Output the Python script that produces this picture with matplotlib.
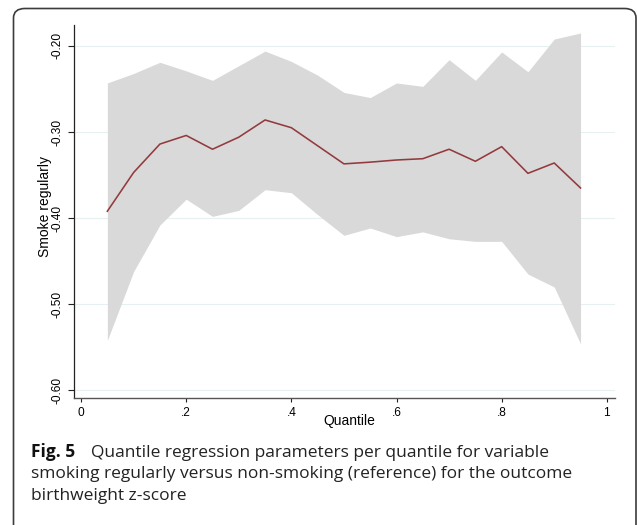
import matplotlib
matplotlib.use("Agg")
import matplotlib.pyplot as plt
from matplotlib.patches import FancyBboxPatch
import numpy as np

quantiles = [0.05, 0.10, 0.15, 0.20, 0.25, 0.30, 0.35, 0.40, 0.45, 0.50,
             0.55, 0.60, 0.65, 0.70, 0.75, 0.80, 0.85, 0.90, 0.95]
coef = [-0.392, -0.347, -0.314, -0.304, -0.320, -0.306, -0.286, -0.295, -0.316, -0.337,
        -0.335, -0.3325, -0.331, -0.320, -0.334, -0.317, -0.348, -0.336, -0.365]
upper = [-0.243, -0.232, -0.219, -0.229, -0.240, -0.223, -0.206, -0.218, -0.234, -0.254,
         -0.260, -0.243, -0.247, -0.216, -0.240, -0.207, -0.230, -0.192, -0.185]
lower = [-0.542, -0.462, -0.408, -0.378, -0.398, -0.391, -0.367, -0.3705, -0.396, -0.420,
         -0.4115, -0.4215, -0.416, -0.424, -0.427, -0.427, -0.465, -0.480, -0.546]
xticks = [0, 0.2, 0.4, 0.6, 0.8, 1.0]
xticklabels = ["0", ".2", ".4", ".6", ".8", "1"]
yticks = [-0.6, -0.5, -0.4, -0.3, -0.2]
yticklabels = ["-0.60", "-0.50", "-0.40", "-0.30", "-0.20"]

W, H = 637, 525
fig = plt.figure(figsize=(W / 100, H / 100), dpi=100)

def fx(px):
    return px / W

def fy(py):
    return 1 - py / H

# Rounded border box
box = FancyBboxPatch((fx(13.5), fy(535)), fx(636) - fx(13.5), fy(8.5) - fy(535),
                     boxstyle="round,pad=0,rounding_size=0.018",
                     transform=fig.transFigure, fill=False,
                     edgecolor="#3c3c3c", linewidth=1.2, clip_on=False)
fig.patches.append(box)

ax = fig.add_axes([fx(73.7), fy(397.7), fx(614.7) - fx(73.7), fy(25) - fy(397.7)])
ax.set_xlim(-0.014, 1.015)
ax.set_ylim(-0.6086, -0.1757)

ax.fill_between(quantiles, lower, upper, color="#d9d9d9", linewidth=0, zorder=2)
ax.plot(quantiles, coef, color="#933a3e", linewidth=1.15, zorder=3)

ax.set_yticks(yticks)
ax.set_yticklabels(yticklabels, rotation=90, va="center",
                   family="Liberation Sans", fontsize=8.6)
ax.set_xticks(xticks)
ax.set_xticklabels(xticklabels, family="Liberation Sans", fontsize=8.6)
ax.grid(axis="y", color="#e6f0f1", linewidth=0.8, zorder=1)
ax.set_axisbelow(True)
ax.tick_params(axis="y", length=4, width=0.8, pad=3.0, color="#222222")
ax.tick_params(axis="x", length=3, width=0.8, pad=4.0, color="#222222")

for s in ["top", "right"]:
    ax.spines[s].set_visible(False)
ax.spines["left"].set_color("#222222")
ax.spines["left"].set_linewidth(0.9)
ax.spines["bottom"].set_color("#555555")
ax.spines["bottom"].set_linewidth(1.0)

ax.set_ylabel("Smoke regularly", family="Liberation Sans", fontsize=10)
ax.set_xlabel("Quantile", family="Liberation Sans", fontsize=10)
ax.yaxis.set_label_coords((45 - 73.7) / (614.7 - 73.7), (397.7 - 206.5) / (397.7 - 25))
ax.xaxis.set_label_coords((349 - 73.7) / (614.7 - 73.7), -(421 - 397.7) / (397.7 - 25))
ax.xaxis.label.set_va("center")
ax.yaxis.label.set_va("center")

cap_font = "Open Sans"
cap_size = 12.5
fig.text(fx(31), fy(456.7), "Fig. 5", family=cap_font, fontweight="bold",
         fontsize=cap_size, va="baseline", color="#111111")
fig.text(fx(91), fy(456.7), "Quantile regression parameters per quantile for variable",
         family=cap_font, fontsize=cap_size, va="baseline", color="#222222")
fig.text(fx(31), fy(478.3), "smoking regularly versus non-smoking (reference) for the outcome",
         family=cap_font, fontsize=cap_size, va="baseline", color="#222222")
fig.text(fx(31), fy(500), "birthweight z-score",
         family=cap_font, fontsize=cap_size, va="baseline", color="#222222")

fig.savefig("out.png", dpi=100)
